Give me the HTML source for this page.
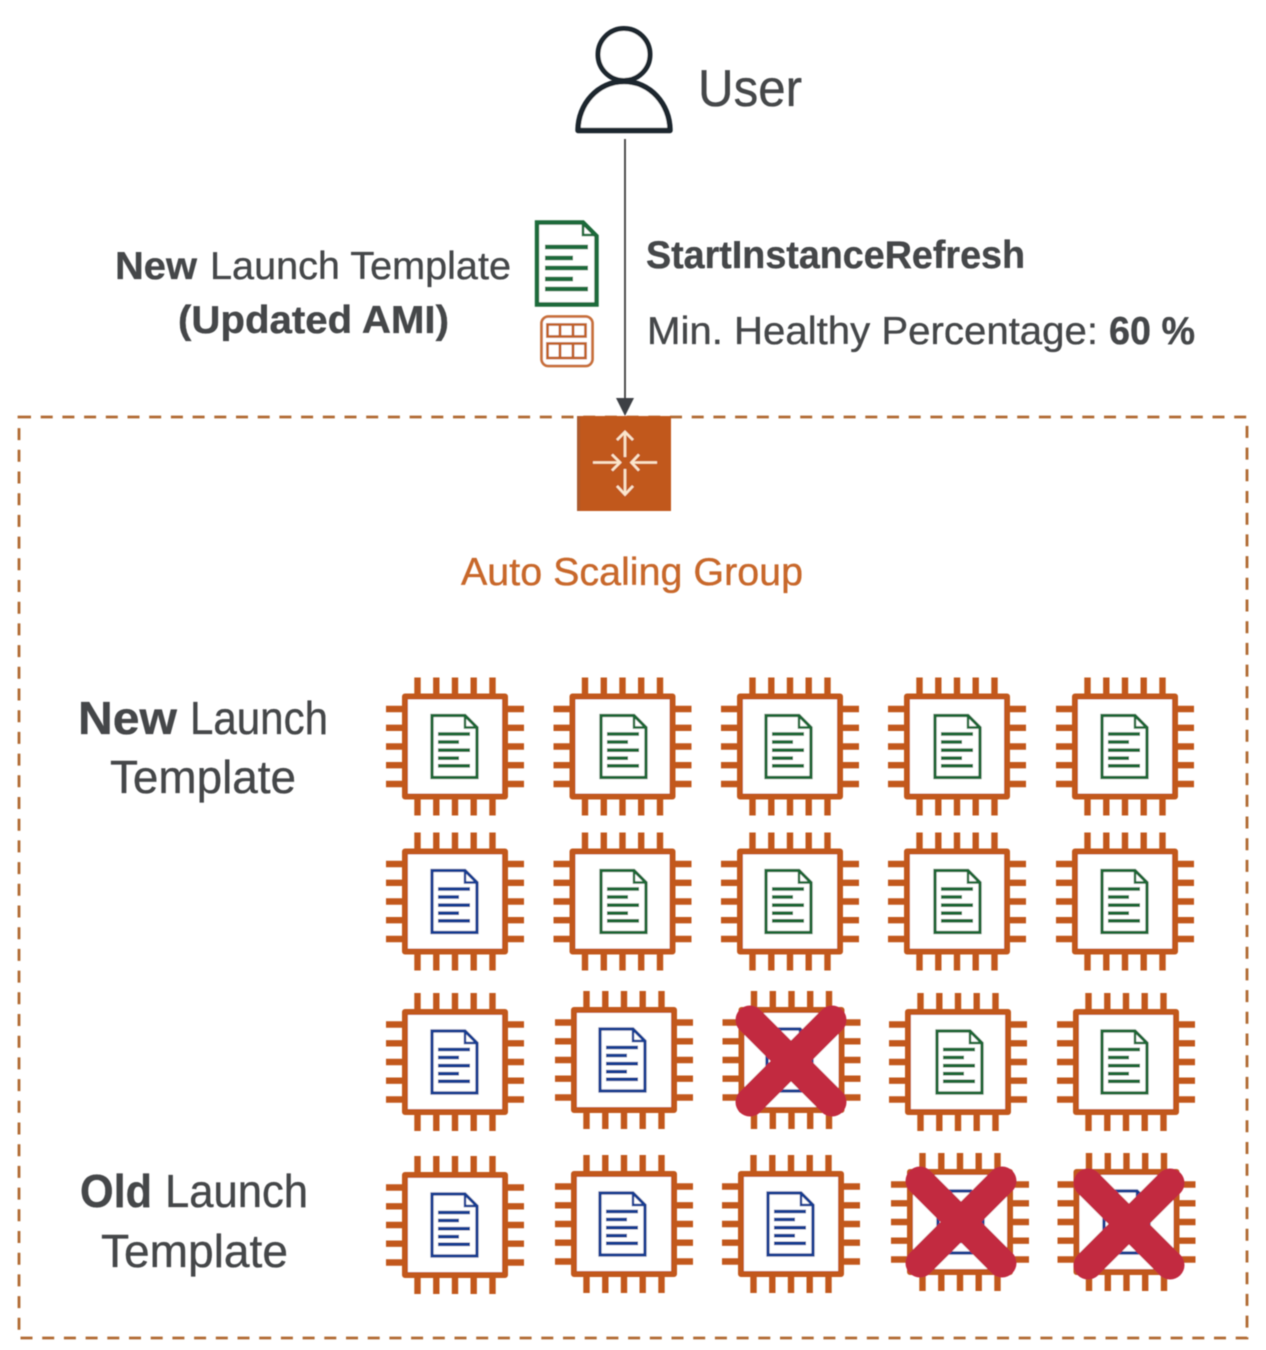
<!DOCTYPE html>
<html lang="en">
<head>
<meta charset="utf-8">
<title>StartInstanceRefresh diagram</title>
<style>
html,body{margin:0;padding:0;background:#fff;width:1266px;height:1350px;overflow:hidden}
svg{display:block}
text{font-family:"Liberation Sans",sans-serif;fill:#444648;stroke:#444648;stroke-width:.35}
.b{font-weight:700}
</style>
</head>
<body>
<svg width="1266" height="1350" viewBox="0 0 1266 1350" xmlns="http://www.w3.org/2000/svg">
<defs>
<filter id="soft" x="-2%" y="-2%" width="104%" height="104%"><feGaussianBlur stdDeviation="0.55"/></filter>
<g id="chip">
  <rect x="-50" y="-50" width="100" height="100" fill="#fff" stroke="#c2591f" stroke-width="6" stroke-linejoin="round"/>
  <path d="M-37.5,-69V-53M-18.7,-69V-53M0,-69V-53M18.7,-69V-53M37.5,-69V-53M-37.5,53V69M-18.7,53V69M0,53V69M18.7,53V69M37.5,53V69M-69,-37.5H-53M-69,-18.7H-53M-69,0H-53M-69,18.7H-53M-69,37.5H-53M53,-37.5H69M53,-18.7H69M53,0H69M53,18.7H69M53,37.5H69" fill="none" stroke="#c2591f" stroke-width="6.4"/>
</g>
<g id="docG" fill="none" stroke="#1a6636">
  <path d="M-23,-31H10L22,-19V31H-23Z" fill="#fff" stroke-width="3.2"/>
  <path d="M10,-31V-19H22" stroke-width="2.4"/>
  <path d="M-17,-12.5H15M-17,-4.5H4M-17,3.7H15M-17,11.7H4M-17,19.3H15" stroke-width="3.6"/>
</g>
<g id="docB" fill="none" stroke="#163e90">
  <path d="M-23,-31H10L22,-19V31H-23Z" fill="#fff" stroke-width="3.2"/>
  <path d="M10,-31V-19H22" stroke-width="2.4"/>
  <path d="M-17,-12.5H15M-17,-4.5H4M-17,3.7H15M-17,11.7H4M-17,19.3H15" stroke-width="3.6"/>
</g>
<g id="x"><path d="M-41,-41L41,41M41,-41L-41,41" fill="none" stroke="#c22b41" stroke-width="29" stroke-linecap="round"/></g>
</defs>

<g filter="url(#soft)">
  <!-- group boundary -->
  <rect x="19" y="417" width="1228" height="921" fill="none" stroke="#b06a30" stroke-width="2.8" stroke-dasharray="12 9.7"/>

  <!-- user -->
  <circle cx="624" cy="54.5" r="26" fill="#fff" stroke="#1f262e" stroke-width="5"/>
  <path d="M578,130.5H670C670,104 650,81.5 624,81.5C598,81.5 578,104 578,130.5Z" fill="#fff" stroke="#1f262e" stroke-width="5.4" stroke-linejoin="round"/>

  <!-- connector -->
  <path d="M625,139V400" stroke="#3d3d3d" stroke-width="1.8" fill="none"/>
  <path d="M616,398H634L625,416Z" fill="#3d4144"/>

  <!-- large document -->
  <path d="M537,222.5H583L596.5,236V304.5H537Z" fill="#fff" stroke="#1f6b3a" stroke-width="4.4"/>
  <path d="M583,222V235H596.5" fill="none" stroke="#1f6b3a" stroke-width="2.6"/>
  <path d="M545,247H588M545,258H573M545,268H588M545,279H573M545,289H588" stroke="#1f6b3a" stroke-width="4.4" fill="none"/>

  <!-- launch template grid -->
  <rect x="541.5" y="316.5" width="51" height="49.5" rx="7" fill="#fff" stroke="#c8703a" stroke-width="2.8"/>
  <path d="M547.5,324.5H585.5V336.5H547.5ZM547.5,343.5H585.5V358H547.5ZM560,324.5V336.5M573,324.5V336.5M560,343.5V358M573,343.5V358" fill="none" stroke="#c0622a" stroke-width="2.8"/>

  <!-- auto scaling icon -->
  <rect x="577" y="416" width="94" height="95" fill="#c1581f"/>
  <rect x="577" y="416" width="3" height="95" fill="#ab5a2d"/>
  <path d="M625,457V433M617,440L625,432L633,440M625,469V494M617,486L625,494.5L633,486M593,462.5H619M612,454.5L620,462.5L612,470.5M657,462.5H632M639,454.5L631.5,462.5L639,470.5" fill="none" stroke="#fbe6cc" stroke-width="2.6"/>

  <!-- chips row 1 -->
  <use href="#chip" x="455" y="746.5"/><use href="#docG" x="455" y="746.5"/>
  <use href="#chip" x="622.5" y="746.5"/><use href="#docG" x="624" y="746.5"/>
  <use href="#chip" x="790" y="746.5"/><use href="#docG" x="789" y="746.5"/>
  <use href="#chip" x="957" y="746.5"/><use href="#docG" x="958" y="746.5"/>
  <use href="#chip" x="1125" y="746.5"/><use href="#docG" x="1125" y="746.5"/>
  <!-- row 2 -->
  <use href="#chip" x="455" y="901.5"/><use href="#docB" x="455" y="901.5"/>
  <use href="#chip" x="622.5" y="901.5"/><use href="#docG" x="624" y="901.5"/>
  <use href="#chip" x="790" y="901.5"/><use href="#docG" x="789" y="901.5"/>
  <use href="#chip" x="957" y="901.5"/><use href="#docG" x="958" y="901.5"/>
  <use href="#chip" x="1125" y="901.5"/><use href="#docG" x="1125" y="901.5"/>
  <!-- row 3 -->
  <use href="#chip" x="455" y="1062"/><use href="#docB" x="455" y="1062"/>
  <use href="#chip" x="624" y="1060"/><use href="#docB" x="623" y="1060"/>
  <use href="#chip" x="791.5" y="1060"/><use href="#docB" x="790" y="1060"/>
  <use href="#chip" x="958" y="1062"/><use href="#docG" x="960" y="1062"/>
  <use href="#chip" x="1126" y="1062"/><use href="#docG" x="1125" y="1062"/>
  <!-- row 4 -->
  <use href="#chip" x="455" y="1225"/><use href="#docB" x="455" y="1225"/>
  <use href="#chip" x="624" y="1224"/><use href="#docB" x="623" y="1224"/>
  <use href="#chip" x="791" y="1224"/><use href="#docB" x="791" y="1224"/>
  <use href="#chip" x="960" y="1222"/><use href="#docB" x="961" y="1222"/>
  <use href="#chip" x="1126.5" y="1222"/><use href="#docB" x="1127" y="1222"/>

  <use href="#x" x="791" y="1061"/>
  <use href="#x" x="961" y="1222"/>
  <use href="#x" x="1129" y="1224"/>

  <!-- labels -->
  <text x="698" y="106" font-size="52" textLength="104" lengthAdjust="spacingAndGlyphs">User</text>

  <text class="b" x="115" y="279" font-size="39" textLength="82" lengthAdjust="spacingAndGlyphs">New</text>
  <text x="210" y="279" font-size="39" textLength="301" lengthAdjust="spacingAndGlyphs">Launch Template</text>
  <text class="b" x="178" y="333" font-size="39" textLength="271" lengthAdjust="spacingAndGlyphs">(Updated AMI)</text>

  <text class="b" x="646" y="268" font-size="39" textLength="379" lengthAdjust="spacingAndGlyphs">StartInstanceRefresh</text>
  <text x="647" y="344" font-size="39" textLength="451" lengthAdjust="spacingAndGlyphs">Min. Healthy Percentage:</text>
  <text class="b" x="1109" y="344" font-size="39" textLength="86" lengthAdjust="spacingAndGlyphs">60 %</text>

  <text x="461" y="585" font-size="39" textLength="342" lengthAdjust="spacingAndGlyphs" style="fill:#c8672a;stroke:#c8672a">Auto Scaling Group</text>

  <text class="b" x="78" y="734" font-size="46" textLength="99" lengthAdjust="spacingAndGlyphs">New</text>
  <text x="190" y="734" font-size="46" textLength="138" lengthAdjust="spacingAndGlyphs">Launch</text>
  <text x="110" y="793" font-size="46" textLength="186" lengthAdjust="spacingAndGlyphs">Template</text>

  <text class="b" x="80" y="1207" font-size="46" textLength="72" lengthAdjust="spacingAndGlyphs">Old</text>
  <text x="165" y="1207" font-size="46" textLength="143" lengthAdjust="spacingAndGlyphs">Launch</text>
  <text x="101" y="1267" font-size="46" textLength="187" lengthAdjust="spacingAndGlyphs">Template</text>
</g>
</svg>
</body>
</html>
